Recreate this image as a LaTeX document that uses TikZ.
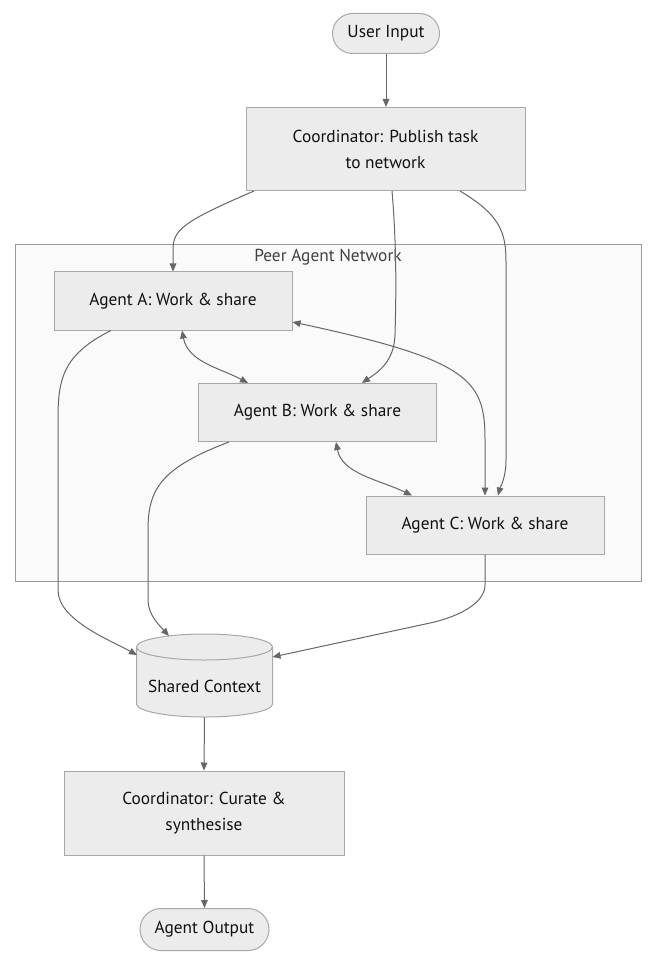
\documentclass[tikz,border=0pt]{standalone}
\usepackage{fontspec}
\setmainfont{PT Sans}
\usetikzlibrary{arrows.meta,calc}
\definecolor{nodefill}{HTML}{ECECEC}
\definecolor{nodeborder}{HTML}{A8A8A8}
\definecolor{edgecol}{HTML}{666666}
\definecolor{clusterfill}{HTML}{FAFAFA}
\definecolor{clusterborder}{HTML}{9A9A9A}
\definecolor{txt}{HTML}{111111}
\begin{document}
\begin{tikzpicture}[x=0.75pt,y=-0.75pt,
  box/.style={draw=nodeborder, fill=nodefill, line width=0.75pt, inner sep=0pt, align=center,
    font=\fontsize{13}{19.5}\selectfont, text=txt},
  stadium/.style={box, rounded corners=15pt},
  agentbox/.style={box, minimum width=178.5pt, minimum height=43.5pt},
  edge/.style={draw=edgecol, line width=0.75pt, -{Triangle[length=6pt,width=5pt]}},
  biedge/.style={draw=edgecol, line width=0.75pt, {Triangle[length=6pt,width=5pt]}-{Triangle[length=6pt,width=5pt]}}
]
\useasboundingbox (0,0) rectangle (660,962);

% cluster
\node[draw=clusterborder, fill=clusterfill, line width=0.75pt, minimum width=469.5pt, minimum height=252pt, inner sep=0pt] (net) at (328,413) {};
\node[font=\fontsize{13}{15}\selectfont, text=txt!80] (netlabel) at (328,257) {Peer Agent Network};

% nodes
\node[stadium, minimum width=80.25pt, minimum height=30pt] (ui) at (386,33.5) {User Input};
\node[box, minimum width=209.25pt, minimum height=62.25pt] (coord) at (385.5,149) {Coordinator: Publish task\\to network};
\node[agentbox] (A) at (173,301) {Agent A: Work \& share};
\node[agentbox] (B) at (317.5,412.5) {Agent B: Work \& share};
\node[agentbox] (C) at (485,525) {Agent C: Work \& share};

% cylinder
\fill[nodefill] (136.5,647) -- (136.5,704) arc (180:360:51pt and 9.75pt) -- (272.5,647) arc (0:180:51pt and 9.75pt) -- cycle;
\draw[nodeborder, line width=0.75pt] (136.5,647) -- (136.5,704) arc (180:360:51pt and 9.75pt) -- (272.5,647) arc (0:180:51pt and 9.75pt) -- cycle;
\draw[nodeborder, line width=0.75pt] (136.5,647) arc (180:360:51pt and 9.75pt);
\node[inner sep=0pt, minimum width=102pt, minimum height=62.25pt] (sc) at (204.5,675.5) {};
\node[font=\fontsize{13}{15}\selectfont, text=txt] (sclabel) at (204.5,686) {Shared Context};
\coordinate (scl) at (137,655);
\coordinate (sct) at (169,636);
\coordinate (scr) at (272.5,657);

\node[box, minimum width=210pt, minimum height=63pt] (cur) at (204,813) {Coordinator: Curate \&\\synthesise};
\node[stadium, minimum width=96.75pt, minimum height=31.5pt, rounded corners=15.75pt] (out) at (204.5,929.5) {Agent Output};

% edges
\draw[edge] (ui.south) -- (ui.south |- coord.north);
\draw[edge] ($(coord.south)+(-131.5,0)$) .. controls (182,222) and (173,230) .. (173,250) -- (A.north);
\draw[edge] ($(coord.south)+(6.5,0)$) .. controls (397,250) and (396,300) .. (395,335) .. controls (394,362) and (378,372) .. ($(B.north)+(44.5,0)$);
\draw[edge] ($(coord.south)+(74.5,0)$) .. controls (500,215) and (506,232) .. (506,262) -- (506,460) .. controls (506,478) and (500,488) .. ($(C.north)+(13,0)$);
\draw[biedge] ($(A.south)+(9,0)$) .. controls (188,362) and (220,368) .. ($(B.north)+(-69.5,0)$);
\draw[biedge] ($(A.east)+(0,21)$) .. controls (470,360) and (485,380) .. (485,440) -- (C.north);
\draw[biedge] ($(B.south)+(18.5,0)$) .. controls (342,474) and (380,480) .. ($(C.north)+(-73,0)$);
\draw[edge] ($(A.south)+(-62,0)$) .. controls (62,355) and (58,380) .. (58,420) -- (58,590) .. controls (58,620) and (110,640) .. (scl);
\draw[edge] ($(B.south)+(-88.5,0)$) .. controls (160,468) and (148,490) .. (148,530) -- (148,600) .. controls (148,615) and (160,626) .. (sct);
\draw[edge] (C.south) -- (485,585) .. controls (485,602) and (461.5,616) .. (430,623) -- (scr);
\draw[edge] (sc.south) -- (cur.north);
\draw[edge] (cur.south) -- (out.north);
\end{tikzpicture}
\end{document}
